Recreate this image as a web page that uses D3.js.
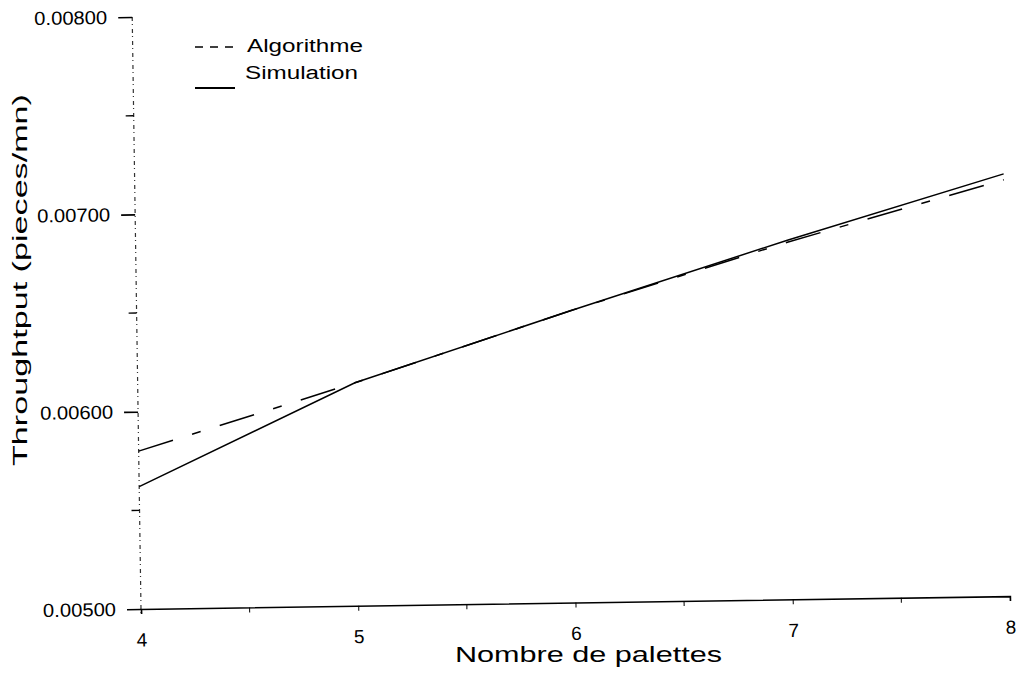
<!DOCTYPE html>
<html>
<head>
<meta charset="utf-8">
<script src="https://cdn.jsdelivr.net/npm/d3@7"></script>
<style>
  body { margin: 0; background: #fff; }
  text { font-family: Arial, "Liberation Sans", sans-serif; fill: #000; }
</style>
</head>
<body>
<div id="chart"></div>
<script>
// values
const palettes = [4, 5, 6, 7, 8];
const algorithme = [0.00580, 0.00613, 0.00648, 0.00681, 0.00711];
const simulation = [0.00562, 0.00613, 0.00648, 0.00682, 0.00714];
const yTicks = [0.005, 0.006, 0.007, 0.008];
const yMinorTicks = [0.0055, 0.0065, 0.0075];
const xTicks = [4, 5, 6, 7, 8];
const xMinorTicks = [4.5, 5.5, 6.5, 7.5];

const width = 1019, height = 697;
const originX = 141, originY = 609;

const svg = d3.select("#chart")
  .append("svg")
  .attr("width", width)
  .attr("height", height);

const x = d3.scaleLinear().domain([4, 8]).range([originX, 1010]);
const y = d3.scaleLinear().domain([0.005, 0.008]).range([originY, 17]);

// the scan is a little tilted, so the plot is drawn in a rotated group
const g = svg.append("g")
  .attr("transform", `rotate(-0.85, ${originX}, ${originY})`);

// left axis: broken, faint line as on the scan
g.append("line")
  .attr("x1", x(4)).attr("x2", x(4))
  .attr("y1", y(0.008)).attr("y2", originY + 8)
  .attr("stroke", "#333")
  .attr("stroke-width", 1.2)
  .attr("stroke-dasharray", "4,3,1,4");

const yAxis = g.append("g")
  .attr("transform", `translate(${x(4)},0)`)
  .call(d3.axisLeft(y).tickValues(yTicks).tickFormat(d3.format(".5f")).tickSize(14).tickPadding(11));
yAxis.select(".domain").remove();
yAxis.selectAll(".tick line").attr("stroke", "#000").attr("stroke-width", 1.6);
yAxis.selectAll(".tick text")
  .attr("font-family", "Arial, 'Liberation Sans', sans-serif")
  .style("font-size", "19px")
  .attr("textLength", 73)
  .attr("lengthAdjust", "spacingAndGlyphs");

g.selectAll(".yminor")
  .data(yMinorTicks)
  .enter()
  .append("line")
  .attr("class", "yminor")
  .attr("x1", x(4) - 8).attr("x2", x(4))
  .attr("y1", d => y(d)).attr("y2", d => y(d))
  .attr("stroke", "#000")
  .attr("stroke-width", 1.4);

// bottom axis
const xAxis = g.append("g")
  .attr("transform", `translate(0,${originY})`)
  .call(d3.axisBottom(x).tickValues(xTicks).tickFormat(d3.format("d")).tickSize(5).tickPadding(19));
xAxis.select(".domain").attr("stroke", "#000").attr("stroke-width", 1.6);
xAxis.selectAll(".tick line").attr("stroke", "#000").attr("stroke-width", 1);
xAxis.selectAll(".tick text")
  .style("font-size", "19px");

g.selectAll(".xminor")
  .data(xMinorTicks)
  .enter()
  .append("line")
  .attr("class", "xminor")
  .attr("x1", d => x(d)).attr("x2", d => x(d))
  .attr("y1", originY).attr("y2", originY + 5)
  .attr("stroke", "#000")
  .attr("stroke-width", 1);

// series
const line = d3.line()
  .x((d, i) => x(palettes[i]))
  .y(d => y(d));

g.append("path")
  .datum(simulation)
  .attr("d", line)
  .attr("fill", "none")
  .attr("stroke", "#000")
  .attr("stroke-width", 1.5);

g.append("path")
  .datum(algorithme)
  .attr("d", line)
  .attr("fill", "none")
  .attr("stroke", "#000")
  .attr("stroke-width", 1.5)
  .attr("stroke-dasharray", "36,20,9,20");

// legend
svg.append("line")
  .attr("x1", 195).attr("x2", 234)
  .attr("y1", 47).attr("y2", 47)
  .attr("stroke", "#000")
  .attr("stroke-width", 1.5)
  .attr("stroke-dasharray", "8,7");
svg.append("text")
  .attr("x", 247).attr("y", 52)
  .attr("textLength", 116)
  .attr("lengthAdjust", "spacingAndGlyphs")
  .style("font-size", "18px")
  .text("Algorithme");

svg.append("line")
  .attr("x1", 195).attr("x2", 235)
  .attr("y1", 88).attr("y2", 88)
  .attr("stroke", "#000")
  .attr("stroke-width", 1.8);
svg.append("text")
  .attr("x", 245).attr("y", 79)
  .attr("textLength", 113)
  .attr("lengthAdjust", "spacingAndGlyphs")
  .style("font-size", "18px")
  .text("Simulation");

// axis titles
svg.append("text")
  .attr("x", 455).attr("y", 662)
  .attr("textLength", 267)
  .attr("lengthAdjust", "spacingAndGlyphs")
  .style("font-size", "22px")
  .text("Nombre de palettes");

svg.append("text")
  .attr("transform", "translate(27,280) rotate(-90)")
  .attr("text-anchor", "middle")
  .attr("textLength", 372)
  .attr("lengthAdjust", "spacingAndGlyphs")
  .style("font-size", "20px")
  .text("Throughtput (pieces/mn)");
</script>
</body>
</html>
